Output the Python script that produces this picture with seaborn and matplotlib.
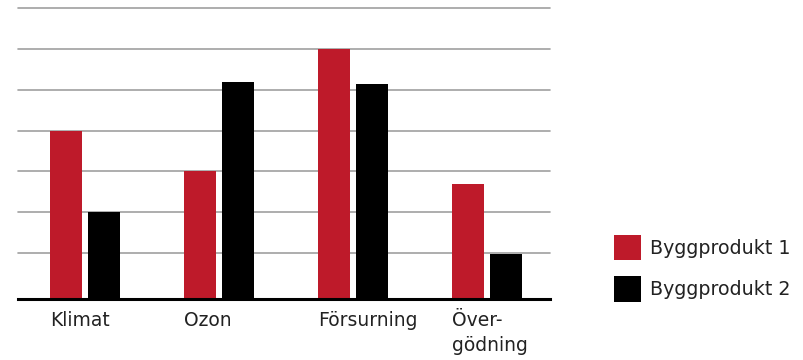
import numpy as np
import pandas as pd
import matplotlib
matplotlib.use('Agg')
import matplotlib.pyplot as plt
import seaborn as sns

# Kategorier och värden (höjd över baslinjen, i rutnätsenheter)
kategorier = ['Klimat', 'Ozon', 'Försurning', 'Över-\ngödning']
produkt1 = [4.12, 3.13, 6.13, 2.82]
produkt2 = [2.13, 5.32, 5.26, 1.10]
serier = ['Byggprodukt 1', 'Byggprodukt 2']
farger = ['#BE1A2A', '#000000']

df = pd.DataFrame({
    'Kategori': kategorier * 2,
    'Värde': produkt1 + produkt2,
    'Serie': [serier[0]] * 4 + [serier[1]] * 4,
})

sns.set_style('white')
plt.rcParams['font.family'] = ['DejaVu Sans']

fig = plt.figure(figsize=(8.04, 3.60), dpi=100)
ax = fig.add_axes([18 / 804, 1 - 299 / 360, 532 / 804, 291 / 360])

sns.barplot(data=df, x='Kategori', y='Värde', hue='Serie', palette=farger,
            width=0.57, gap=0.16, ax=ax, saturation=1, errorbar=None,
            linewidth=0, edgecolor='none')

# Rutnät
for y in np.arange(7) + 1.127:
    ax.axhline(y, color='#a0a0a0', lw=1.2, zorder=0, clip_on=False)
ax.set_ylim(0, 7.13)
ax.set_xlim(-0.5, 3.47)
ax.set_yticks([])
ax.set_ylabel('')
ax.set_xlabel('')
for s in ['top', 'right', 'left']:
    ax.spines[s].set_visible(False)
ax.spines['bottom'].set_linewidth(2.2)
ax.spines['bottom'].set_color('black')

ax.set_xticks(np.arange(len(kategorier)) - 0.26)
ax.set_xticklabels(kategorier, ha='left', fontsize=13.5, color='#222222',
                   linespacing=1.35)
ax.tick_params(axis='x', length=0, pad=9)

handles, labels = ax.get_legend_handles_labels()
leg = ax.legend(handles, labels, loc='upper left',
                bbox_to_anchor=(614 / 804, 1 - 235 / 360), bbox_transform=fig.transFigure,
                frameon=False, fontsize=13.7, handlelength=1.4, handleheight=1.65,
                handletextpad=0.5, labelspacing=0.86, borderpad=0, borderaxespad=0)
for t in leg.get_texts():
    t.set_color('#222222')
for p in leg.get_patches():
    p.set_linewidth(0)

fig.savefig('out.png', dpi=100)
